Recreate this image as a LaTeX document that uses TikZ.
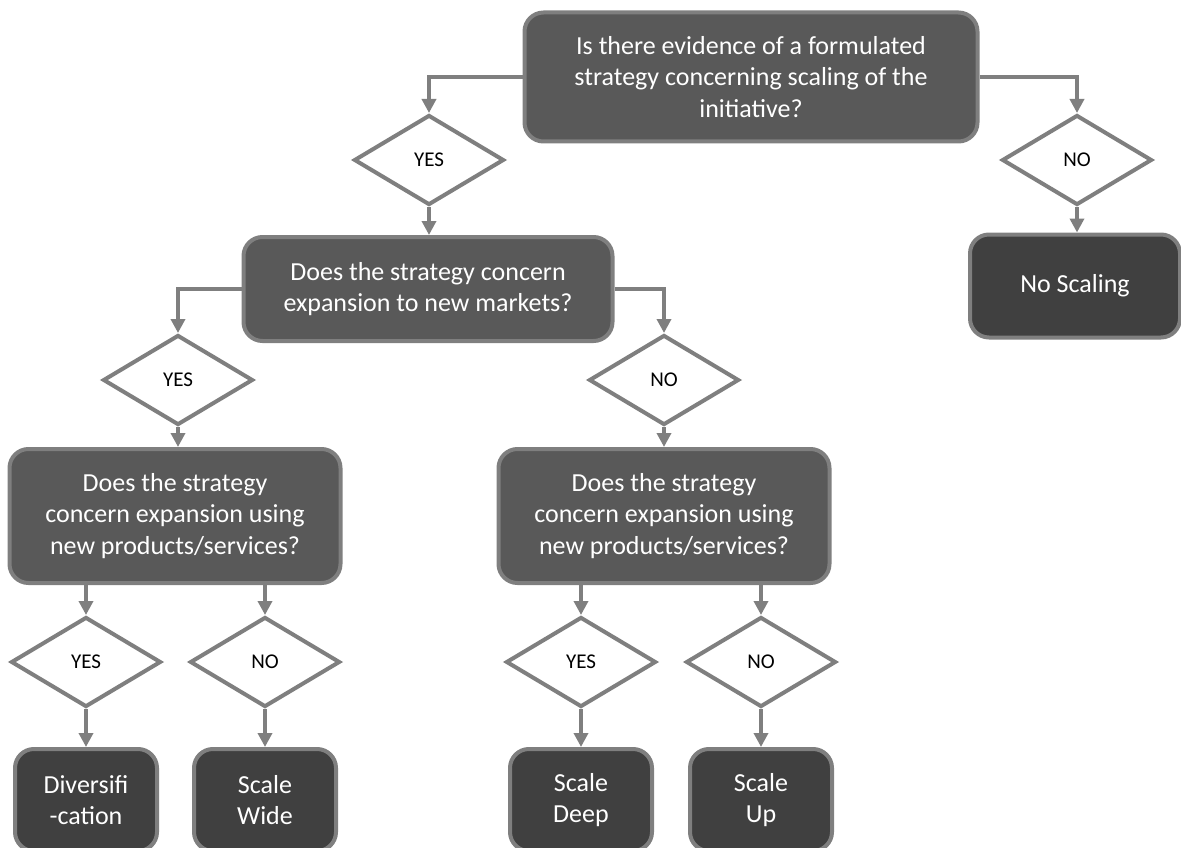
\documentclass[tikz,border=0pt]{standalone}
\usepackage{fontspec}
\setmainfont{Carlito}
\usetikzlibrary{arrows.meta}
\usetikzlibrary{shapes.geometric}
\usetikzlibrary{positioning}
\definecolor{boxgrau}{HTML}{595959}
\definecolor{blattgrau}{HTML}{404040}
\definecolor{randgrau}{HTML}{7F7F7F}

\tikzset{
  frage/.style={draw=randgrau, fill=boxgrau, line width=4pt, rounded corners=19pt,
    text=white, align=center, inner sep=0pt, font=\fontsize{26}{31.5}\selectfont},
  blatt/.style={frage, fill=blattgrau, minimum width=142pt, minimum height=102pt},
  raute/.style={diamond, draw=randgrau, fill=white, line width=4pt, inner sep=0pt,
    aspect=1.65, minimum width=150pt, minimum height=90pt, font=\fontsize{21}{24}\selectfont},
  pfeil/.style={draw=randgrau, line width=4.5pt, -{Triangle[length=14pt,width=14pt]}},
}

\begin{document}
\begin{tikzpicture}[x=1pt, y=-1pt] % Pixelkoordinaten, y nach unten
    \useasboundingbox (0,0) rectangle (1181,848);

    % Fragen
    \node[frage, minimum width=453pt, minimum height=129pt] (q1) at (751,77)
        {Is there evidence of a formulated\\strategy concerning scaling of the\\initiative?};
    \node[frage, minimum width=369pt, minimum height=104pt] (q2) at (428,289)
        {Does the strategy concern\\expansion to new markets?};
    \node[frage, minimum width=331pt, minimum height=134pt] (q3l) at (175,516)
        {Does the strategy\\concern expansion using\\new products/services?};
    \node[frage, minimum width=331pt, minimum height=134pt] (q3r) at (664,516)
        {Does the strategy\\concern expansion using\\new products/services?};

    % Rauten
    \node[raute] (ja1) at (429,160) {YES};
    \node[raute] (nein1) at (1077,160) {NO};
    \node[raute] (ja2) at (178,380) {YES};
    \node[raute] (nein2) at (664,380) {NO};
    \node[raute] (ja3) at (86,662) {YES};
    \node[raute] (nein3) at (265,662) {NO};
    \node[raute] (ja4) at (581,662) {YES};
    \node[raute] (nein4) at (761,662) {NO};

    % Ergebnisse
    \node[frage, fill=blattgrau, minimum width=210pt, minimum height=103pt] (keine) at (1075,286) {No Scaling};
    \node[blatt] (div) at (86,800) {Diversifi\\-cation};
    \node[blatt] (wide) at (265,800) {Scale\\Wide};
    \node[blatt] (deep) at (581,800) {Scale\\Deep};
    \node[blatt] (up) at (761,800) {Scale\\Up};

    % Verbindungen
    \draw[pfeil] (q1.west) -| (ja1.north);
    \draw[pfeil] (q1.east) -| (nein1.north);
    \draw[pfeil] (ja1.south) -- (q2.north -| ja1.south);
    \draw[pfeil] (nein1.south) -- (keine.north -| nein1.south);
    \draw[pfeil] (q2.west) -| (ja2.north);
    \draw[pfeil] (q2.east) -| (nein2.north);
    \draw[pfeil] (ja2.south) -- (q3l.north -| ja2.south);
    \draw[pfeil] (nein2.south) -- (q3r.north -| nein2.south);
    \draw[pfeil] (q3l.south -| ja3.north) -- (ja3.north);
    \draw[pfeil] (q3l.south -| nein3.north) -- (nein3.north);
    \draw[pfeil] (q3r.south -| ja4.north) -- (ja4.north);
    \draw[pfeil] (q3r.south -| nein4.north) -- (nein4.north);
    \draw[pfeil] (ja3.south) -- (div.north);
    \draw[pfeil] (nein3.south) -- (wide.north);
    \draw[pfeil] (ja4.south) -- (deep.north);
    \draw[pfeil] (nein4.south) -- (up.north);
\end{tikzpicture}
\end{document}
